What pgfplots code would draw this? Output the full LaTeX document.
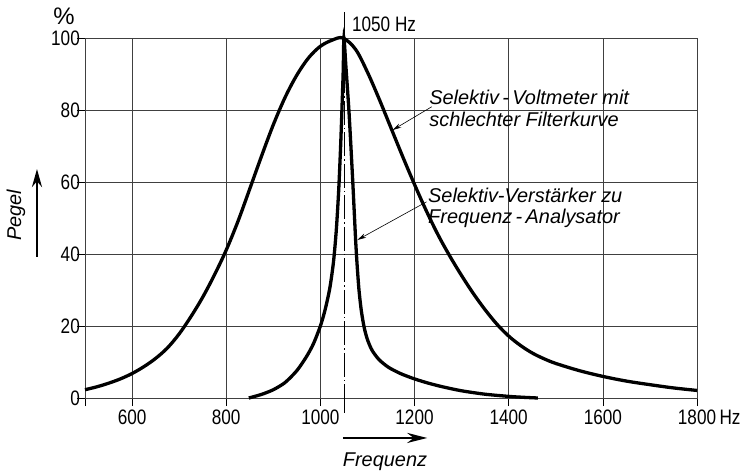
\documentclass[border=0pt]{standalone}
\usepackage{fontspec}
\setmainfont{Liberation Sans}
\newfontfamily\narrow[FakeStretch=0.82]{Liberation Sans}
\usepackage{pgfplots}
\pgfplotsset{compat=1.18}
\usetikzlibrary{arrows.meta}
\begin{document}
\begin{tikzpicture}
\path[use as bounding box] (0,0) rectangle (747bp,472bp);
\begin{axis}[
  at={(85bp,74bp)}, anchor=south west,
  scale only axis, width=612bp, height=360bp,
  xmin=500, xmax=1800, ymin=0, ymax=100,
  xtick={500,600,800,1000,1200,1400,1600,1800},
  xticklabels={,600,800,1000,1200,1400,1600,1800\rlap{\,Hz}},
  ytick={0,20,40,60,80,100},
  grid=major,
  major grid style={black!75, line width=0.6bp},
  axis line style={black!75, line width=0.6bp},
  tick style={black, line width=0.7bp},
  tick align=outside, major tick length=8bp,
  xtick pos=left, ytick pos=left,
  tick label style={font=\narrow\fontsize{21}{24}\selectfont, inner sep=1bp},
  yticklabel style={xshift=4bp},
  xticklabel style={yshift=-3bp},
  /pgf/number format/assume math mode=true,
  clip=false,
]
% 1050 Hz reference line
\draw[black, line width=0.7bp] (axis cs:1050,107.2) -- (axis cs:1050,100);
\draw[black, line width=0.7bp, dash pattern=on 24bp off 3bp on 1.5bp off 3bp] (axis cs:1050,100) -- (axis cs:1050,0);
\draw[black, line width=0.7bp] (axis cs:1050,0) -- (axis cs:1050,-4.2);
\node[anchor=base west, inner sep=0pt, font=\narrow\fontsize{21}{24}\selectfont] at (axis cs:1067,101.9) {1050 Hz};

% broad curve: Selektiv-Voltmeter mit schlechter Filterkurve
\addplot[black, line width=3.3bp, smooth, tension=0.55] coordinates {
(500,2.3)(525,3.1)(550,4.1)(575,5.3)(600,6.8)(625,8.7)(650,11.0)(675,13.9)(700,17.8)(725,22.6)(750,28.0)(775,34.2)(800,41.1)(825,49.1)(850,58.1)(875,67.2)(900,75.9)(925,83.5)(950,89.7)(975,94.5)(1000,97.7)(1025,99.4)(1048,100)
(1075,96.8)(1100,90.5)(1125,83.0)(1150,75.0)(1175,67.0)(1200,59.3)(1225,52.0)(1250,45.3)(1275,39.4)(1300,34.0)(1325,29.0)(1350,24.5)(1375,20.5)(1400,17.2)(1425,14.6)(1450,12.5)(1475,10.9)(1500,9.6)(1550,7.6)(1600,6.0)(1650,4.7)(1700,3.7)(1750,2.8)(1800,2.1)
};
% narrow curve: Selektiv-Verstaerker zu Frequenz-Analysator
\addplot[black, line width=3.3bp, smooth, tension=0.45] coordinates {
(848,0)(875,1.0)(900,2.3)(925,4.3)(950,7.6)(970,11.4)(985,15.0)(1000,20)(1010,24.5)(1020,30.5)(1028,38)(1034,47)(1039,58)(1043,70)(1046,81)(1048.5,91)(1050,100)
(1054,92.5)(1058,85)(1061,79)(1065,69.5)(1069,59.5)(1072,51.5)(1075,43.5)(1078,37)(1082,30)(1087,24.2)(1093,19.6)(1100,16.2)(1110,13.2)(1125,10.6)(1145,8.5)(1170,6.8)(1200,5.3)(1230,4.1)(1260,3.1)(1300,2.0)(1350,1.05)(1400,0.45)(1430,0.2)(1462,0)
};

% annotations
\node[anchor=base west, inner sep=0pt, font=\itshape\fontsize{20}{22}\selectfont] at (axis cs:1231,81.4) {Selektiv\,-\,Voltmeter mit};
\node[anchor=base west, inner sep=0pt, font=\itshape\fontsize{20}{22}\selectfont] at (axis cs:1231,75.3) {schlechter Filterkurve};
\node[anchor=base west, inner sep=0pt, font=\itshape\fontsize{20}{22}\selectfont] at (axis cs:1228.6,54.2) {Selektiv-Verstärker zu};
\node[anchor=base west, inner sep=0pt, font=\itshape\fontsize{20}{22}\selectfont] at (axis cs:1228.6,48.6) {Frequenz\,-\,Analysator};
\draw[black, line width=0.6bp, -{Stealth[length=9bp,width=4.5bp]}] (axis cs:1236.5,80.9) -- (axis cs:1153,74.4);
\draw[black, line width=0.6bp, -{Stealth[length=9bp,width=4.5bp]}] (axis cs:1225.6,54.5) -- (axis cs:1078.5,43.9);

% axis labels
\node[font=\fontsize{24}{26}\selectfont] at (axis cs:455.4,105.9) {\%};
\node[rotate=90, font=\itshape\fontsize{20}{22}\selectfont] at (axis cs:353.4,50.8) {Pegel};
\draw[black, line width=2.6bp, -{Stealth[length=18bp,width=10bp]}] (axis cs:398,39.2) -- (axis cs:398,63.6);
\node[anchor=base, inner sep=0pt, font=\itshape\fontsize{20}{22}\selectfont] at (axis cs:1137.3,-18.9) {Frequenz};
\draw[black, line width=2.6bp, -{Stealth[length=20bp,width=10bp]}] (axis cs:1048,-11.1) -- (axis cs:1227,-11.1);
\end{axis}
\end{tikzpicture}
\end{document}
